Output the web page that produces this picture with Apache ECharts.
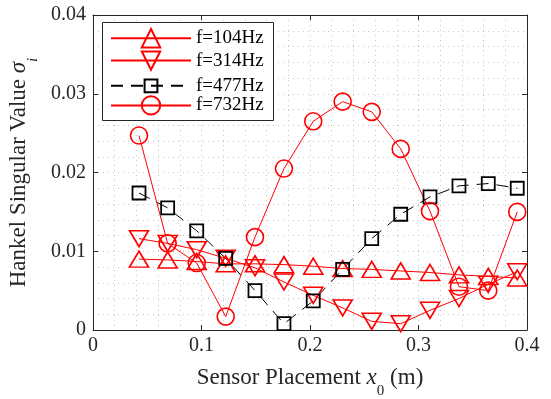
<!DOCTYPE html>
<html>
<head>
<meta charset="utf-8">
<script src="https://cdn.jsdelivr.net/npm/echarts@6/dist/echarts.min.js"></script>
<style>
  html, body { margin: 0; padding: 0; background: #fff; }
  #chart { width: 551px; height: 399px; }
</style>
</head>
<body>
<div id="chart"></div>
<script>
// sensor positions x0 (m)
const positions = [0.0424, 0.0688, 0.0956, 0.1223, 0.1493, 0.176, 0.203, 0.2301, 0.2569, 0.2836, 0.3106, 0.3373, 0.3643, 0.391]
const f104 = [0.0090, 0.0089, 0.0087, 0.0084, 0.0084, 0.0083, 0.0081, 0.0078, 0.0077, 0.0075, 0.0073, 0.0070, 0.0068, 0.0066]
const f314 = [0.0116, 0.0110, 0.0102, 0.0091, 0.0079, 0.0061, 0.0044, 0.0028, 0.0011, 0.0008, 0.0025, 0.0040, 0.0058, 0.0074]
const f477 = [0.0174, 0.0155, 0.0126, 0.0091, 0.0050, 0.0008, 0.0037, 0.0077, 0.0116, 0.0147, 0.0169, 0.0183, 0.0186, 0.0180]
const f732 = [0.0247, 0.0110, 0.0085, 0.0017, 0.0118, 0.0205, 0.0265, 0.0290, 0.0277, 0.0230, 0.0151, 0.0055, 0.0050, 0.0150]
const seriesNames = ['f=104Hz', 'f=314Hz', 'f=477Hz', 'f=732Hz']

const font = 'Liberation Serif'
const axisColor = '#262626'
const red = '#ff0000'

function pairs(ys) {
  return positions.map((x, i) => [x, ys[i]])
}

const gridLine = { show: true, lineStyle: { color: '#c4c4c4', type: [1, 4], width: 1 } }

// big line height so the subscript can sit well below the baseline
const rich = {
  t: { fontFamily: font, fontSize: 23, color: axisColor, lineHeight: 42 },
  it: { fontFamily: font, fontSize: 23, fontStyle: 'italic', color: axisColor, lineHeight: 42 },
  sub: { fontFamily: font, fontSize: 15, color: axisColor, verticalAlign: 'bottom', lineHeight: 15 },
  subi: { fontFamily: font, fontSize: 15, fontStyle: 'italic', color: axisColor, verticalAlign: 'bottom', lineHeight: 15 },
}

// one legend per row, so the square marker can be smaller like the original
const legendRows = [
  { name: seriesNames[0], h: 23 },
  { name: seriesNames[1], h: 23 },
  { name: seriesNames[2], h: 16 },
  { name: seriesNames[3], h: 23 },
]
const legends = legendRows.map((row, i) => {
  const cy = 39.5 + 22.4 * i
  return {
    orient: 'vertical',
    left: 110,
    top: cy - row.h / 2,
    itemWidth: 80,
    itemHeight: row.h,
    padding: 0,
    data: [row.name],
    textStyle: { fontFamily: font, fontSize: 19, color: '#000' },
  }
})

const chart = echarts.init(document.getElementById('chart'), null, { renderer: 'canvas' })

const option = {
  animation: false,
  backgroundColor: '#fff',
  grid: { left: 93, right: 24, top: 15, bottom: 69, outerBoundsMode: 'none' },
  graphic: [
    {
      type: 'rect',
      z: 3,
      shape: { x: 102.5, y: 22.5, width: 171, height: 98 },
      style: { fill: '#fff', stroke: axisColor, lineWidth: 1 },
    },
  ],
  legend: legends,
  xAxis: [
    {
      type: 'value',
      min: 0,
      max: 0.4,
      interval: 0.1,
      name: '{t|Sensor Placement }{it|x}{sub|0}{t| (m)}',
      nameLocation: 'middle',
      nameGap: 27,
      nameTextStyle: { rich: rich },
      axisLine: { show: true, onZero: false, lineStyle: { color: axisColor, width: 1 } },
      axisTick: { show: true, inside: true, length: 5, lineStyle: { color: axisColor } },
      axisLabel: { fontFamily: font, fontSize: 20, color: axisColor, margin: 6 },
      splitLine: gridLine,
      minorTick: { show: false, splitNumber: 5 },
      minorSplitLine: gridLine,
    },
    {
      type: 'value',
      position: 'top',
      min: 0,
      max: 0.4,
      interval: 0.1,
      axisLine: { show: true, onZero: false, lineStyle: { color: axisColor, width: 1 } },
      axisTick: { show: true, inside: true, length: 5, lineStyle: { color: axisColor } },
      axisLabel: { show: false },
      splitLine: { show: false },
    },
  ],
  yAxis: [
    {
      type: 'value',
      min: 0,
      max: 0.04,
      interval: 0.01,
      name: '{t|Hankel Singular Value }{it|σ}{subi|i}',
      nameLocation: 'middle',
      nameRotate: 90,
      nameGap: 47,
      nameTextStyle: { rich: rich },
      axisLine: { show: true, onZero: false, lineStyle: { color: axisColor, width: 1 } },
      axisTick: { show: true, inside: true, length: 5, lineStyle: { color: axisColor } },
      axisLabel: { fontFamily: font, fontSize: 20, color: axisColor, margin: 7 },
      splitLine: gridLine,
      minorTick: { show: false, splitNumber: 5 },
      minorSplitLine: gridLine,
    },
    {
      type: 'value',
      position: 'right',
      min: 0,
      max: 0.04,
      interval: 0.01,
      axisLine: { show: true, onZero: false, lineStyle: { color: axisColor, width: 1 } },
      axisTick: { show: true, inside: true, length: 5, lineStyle: { color: axisColor } },
      axisLabel: { show: false },
      splitLine: { show: false },
    },
  ],
  series: [
    {
      name: seriesNames[0],
      type: 'line',
      data: pairs(f104),
      symbol: 'triangle',
      symbolSize: [19, 16],
      showAllSymbol: true,
      lineStyle: { color: red, width: 1 },
      itemStyle: { color: 'transparent', borderColor: red, borderWidth: 1.6 },
    },
    {
      name: seriesNames[1],
      type: 'line',
      data: pairs(f314),
      symbol: 'triangle',
      symbolRotate: 180,
      symbolSize: [19, 16],
      showAllSymbol: true,
      lineStyle: { color: red, width: 1 },
      itemStyle: { color: 'transparent', borderColor: red, borderWidth: 1.6 },
    },
    {
      name: seriesNames[2],
      type: 'line',
      data: pairs(f477),
      symbol: 'rect',
      symbolSize: 13,
      showAllSymbol: true,
      lineStyle: { color: '#000', width: 1, type: [12, 8] },
      itemStyle: { color: 'transparent', borderColor: '#000', borderWidth: 1.8 },
    },
    {
      name: seriesNames[3],
      type: 'line',
      data: pairs(f732),
      symbol: 'circle',
      symbolSize: 17,
      showAllSymbol: true,
      lineStyle: { color: red, width: 1 },
      itemStyle: { color: 'transparent', borderColor: red, borderWidth: 1.6 },
    },
  ],
}

chart.setOption(option)
</script>
</body>
</html>
